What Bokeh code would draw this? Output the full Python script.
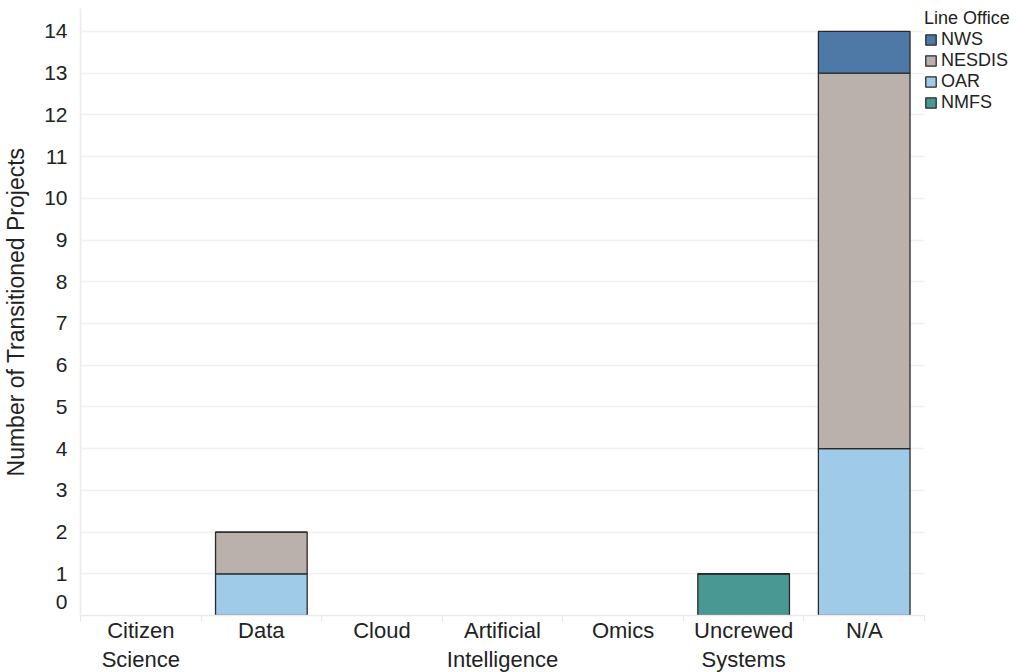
from bokeh.plotting import figure
from bokeh.models import ColumnDataSource, FixedTicker, Legend, LegendItem, Range1d, LinearAxis
from bokeh.embed import file_html
from bokeh.resources import INLINE

categories = ["Citizen Science", "Data", "Cloud", "Artificial Intelligence", "Omics", "Uncrewed Systems", "N/A"]
label_line1 = ["Citizen", "Data", "Cloud", "Artificial", "Omics", "Uncrewed", "N/A"]
label_line2 = ["Science", "", "", "Intelligence", "", "Systems", ""]
series = ["NMFS", "OAR", "NESDIS", "NWS"]  # bottom to top
nmfs = [0, 0, 0, 0, 0, 1, 0]
oar = [0, 1, 0, 0, 0, 0, 4]
nesdis = [0, 1, 0, 0, 0, 0, 9]
nws = [0, 0, 0, 0, 0, 0, 1]
colors = {"NWS": "#4e79a7", "NESDIS": "#bab0ac", "OAR": "#a0cbe8", "NMFS": "#499894"}
y_ticks = list(range(0, 15))

values = {"NMFS": nmfs, "OAR": oar, "NESDIS": nesdis, "NWS": nws}
totals = [sum(v[i] for v in values.values()) for i in range(len(categories))]
n = len(categories)
centers = [i + 0.5 for i in range(n)]

p = figure(x_range=Range1d(0, n), y_range=Range1d(0, 14.55), frame_width=844, frame_height=607,
           output_backend="svg", toolbar_location=None, x_axis_type=None,
           min_border_left=68, min_border_top=8, min_border_bottom=0, min_border_right=0)

renderers = {}
base = [0] * n
for s in series:
    vals = values[s]
    xs, bots, tops = [], [], []
    for i in range(n):
        if totals[i] > 0:
            xs.append(centers[i])
            bots.append(base[i])
            tops.append(base[i] + vals[i])
    base = [b + v for b, v in zip(base, vals)]
    src = ColumnDataSource(dict(x=xs, bottom=bots, top=tops))
    renderers[s] = p.vbar(x="x", bottom="bottom", top="top", width=0.76, source=src,
                          fill_color=colors[s], line_color="#2a2a2a", line_width=1.3)

legend = Legend(items=[LegendItem(label=s, renderers=[renderers[s]]) for s in ["NWS", "NESDIS", "OAR", "NMFS"]],
                title="Line Office", location="top_left",
                label_text_font="Liberation Sans", label_text_font_size="18px",
                title_text_font="Liberation Sans", title_text_font_size="18px", title_text_font_style="normal",
                title_standoff=0, glyph_width=13, glyph_height=13, label_height=20, spacing=0,
                padding=0, margin=0, border_line_color=None, background_fill_alpha=0,
                label_standoff=4, label_text_color="#222222", title_text_color="#222222")
p.add_layout(legend, "right")

# two-line category labels via two stacked axes
ax1 = LinearAxis(ticker=FixedTicker(ticks=centers, minor_ticks=list(range(n + 1))),
                 major_label_overrides={c: l for c, l in zip(centers, label_line1)},
                 axis_line_color="#ebebeb", axis_line_width=1.5,
                 major_tick_line_color=None, minor_tick_line_color="#e6e6e6",
                 minor_tick_in=0, minor_tick_out=6, major_label_standoff=-4)
ax2 = LinearAxis(ticker=FixedTicker(ticks=centers),
                 major_label_overrides={c: (l if l else " ") for c, l in zip(centers, label_line2)},
                 axis_line_color=None, major_tick_line_color=None, minor_tick_line_color=None,
                 major_label_standoff=-5)
p.add_layout(ax1, "below")
p.add_layout(ax2, "below")
for ax in [ax1, ax2]:
    ax.major_label_text_font = "Liberation Sans"
    ax.major_label_text_color = "#222222"
    ax.major_label_text_font_size = "22px"

p.yaxis.ticker = FixedTicker(ticks=[0.33] + y_ticks[1:])
p.yaxis.major_label_overrides = {0.33: "0"}
p.ygrid.ticker = FixedTicker(ticks=y_ticks)
p.ygrid.grid_line_color = "#f0f0f0"
p.ygrid.grid_line_width = 1.5

yax = p.yaxis[0]
yax.axis_line_color = "#ebebeb"
yax.axis_line_width = 1.5
yax.major_tick_line_color = None
yax.minor_tick_line_color = None
yax.major_label_text_font = "Liberation Sans"
yax.major_label_text_color = "#222222"
yax.major_label_text_font_size = "21px"
yax.major_label_standoff = 7
yax.axis_label = "Number of Transitioned Projects"
yax.axis_label_text_font = "Liberation Sans"
yax.axis_label_text_font_size = "23px"
yax.axis_label_text_font_style = "normal"
yax.axis_label_text_color = "#222222"
yax.axis_label_standoff = 12
p.outline_line_color = None

open("out.html", "w").write(file_html(p, INLINE))
